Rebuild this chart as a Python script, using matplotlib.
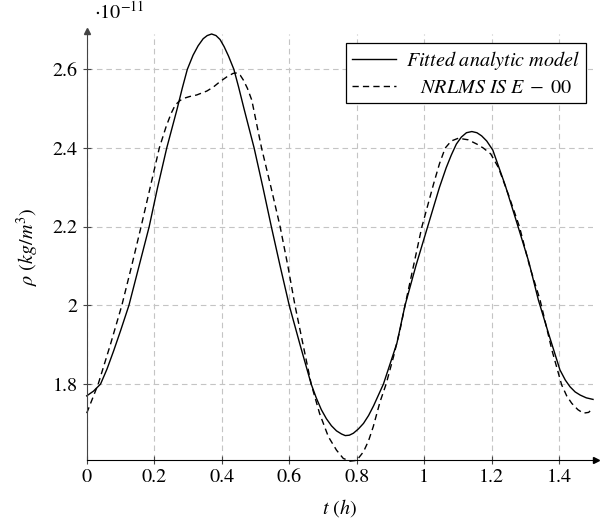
import numpy as np
import matplotlib
matplotlib.use("Agg")
import matplotlib.pyplot as plt

plt.rcParams["font.family"] = "STIXGeneral"
plt.rcParams["mathtext.fontset"] = "stix"
plt.rcParams["font.size"] = 14.5

# fitted analytic model, density in units of 1e-11 kg/m^3
t_fit = [0.000, 0.020, 0.041, 0.060, 0.080, 0.100, 0.125, 0.155, 0.185, 0.210,
         0.237, 0.268, 0.283, 0.298, 0.315, 0.330, 0.345, 0.357, 0.370, 0.383,
         0.395, 0.407, 0.420, 0.436, 0.450, 0.466, 0.496, 0.522, 0.547, 0.573,
         0.600, 0.632, 0.665, 0.680, 0.695, 0.710, 0.725, 0.740, 0.755, 0.766,
         0.778, 0.790, 0.805, 0.820, 0.835, 0.850, 0.879, 0.919, 0.943, 0.975,
         1.010, 1.045, 1.065, 1.080, 1.095, 1.110, 1.125, 1.141, 1.156, 1.170,
         1.185, 1.203, 1.240, 1.278, 1.310, 1.338, 1.368, 1.402, 1.418, 1.432,
         1.447, 1.462, 1.480, 1.500]
rho_fit = [1.770, 1.782, 1.800, 1.838, 1.885, 1.935, 2.000, 2.100, 2.200, 2.300,
           2.400, 2.500, 2.552, 2.600, 2.636, 2.660, 2.678, 2.686, 2.690, 2.686,
           2.676, 2.658, 2.634, 2.600, 2.555, 2.500, 2.400, 2.300, 2.200, 2.100,
           2.000, 1.900, 1.800, 1.765, 1.735, 1.712, 1.694, 1.681, 1.673, 1.669,
           1.670, 1.675, 1.686, 1.700, 1.720, 1.745, 1.800, 1.904, 2.000, 2.100,
           2.200, 2.300, 2.350, 2.382, 2.410, 2.428, 2.439, 2.442, 2.439, 2.431,
           2.418, 2.395, 2.305, 2.200, 2.110, 2.014, 1.929, 1.836, 1.810, 1.793,
           1.780, 1.772, 1.765, 1.761]

# NRLMSISE-00 reference
t_msis = [0.000, 0.034, 0.070, 0.104, 0.133, 0.161, 0.188, 0.215, 0.235, 0.250,
          0.262, 0.275, 0.286, 0.305, 0.326, 0.356, 0.375, 0.395, 0.415, 0.434,
          0.445, 0.455, 0.464, 0.476, 0.489, 0.518, 0.546, 0.573, 0.596, 0.617,
          0.641, 0.665, 0.690, 0.716, 0.740, 0.760, 0.780, 0.800, 0.820, 0.835,
          0.849, 0.869, 0.887, 0.909, 0.928, 0.943, 0.968, 0.993, 1.028, 1.045,
          1.062, 1.080, 1.101, 1.130, 1.156, 1.175, 1.197, 1.220, 1.250, 1.282,
          1.312, 1.343, 1.378, 1.407, 1.422, 1.437, 1.455, 1.471, 1.487, 1.500]
rho_msis = [1.726, 1.800, 1.900, 2.000, 2.100, 2.200, 2.300, 2.400, 2.454, 2.488,
            2.509, 2.520, 2.526, 2.531, 2.535, 2.545, 2.555, 2.569, 2.581, 2.590,
            2.591, 2.585, 2.573, 2.552, 2.522, 2.400, 2.300, 2.200, 2.100, 2.000,
            1.900, 1.800, 1.725, 1.666, 1.632, 1.611, 1.604, 1.606, 1.628, 1.656,
            1.692, 1.755, 1.800, 1.870, 1.937, 2.000, 2.100, 2.200, 2.310, 2.360,
            2.400, 2.418, 2.425, 2.421, 2.410, 2.400, 2.385, 2.350, 2.280, 2.200,
            2.100, 2.014, 1.887, 1.798, 1.770, 1.751, 1.735, 1.726, 1.728, 1.739]

xticks = [0, 0.2, 0.4, 0.6, 0.8, 1.0, 1.2, 1.4]
xtick_labels = ["0", "0.2", "0.4", "0.6", "0.8", "1", "1.2", "1.4"]
yticks = [1.8, 2.0, 2.2, 2.4, 2.6]
ytick_labels = ["1.8", "2", "2.2", "2.4", "2.6"]

fig = plt.figure(figsize=(6.12, 5.23), dpi=100)
ax = fig.add_axes([0.1417, 0.1205, 0.8273, 0.8145])

ax.plot(t_fit, rho_fit, "k-", lw=1.0, label=r"$Fitted\ analytic\ model$",
        clip_on=False)
ax.plot(t_msis, rho_msis, color="k", lw=1.0, ls=(0, (4.5, 3.0)),
        label=r"$\ \ \ NRLMS\ IS\ E\;-\;00$", clip_on=False)

ax.set_xlim(0, 1.5)
ax.set_ylim(1.607, 2.69)
ax.set_xticks(xticks)
ax.set_xticklabels(xtick_labels)
ax.set_yticks(yticks)
ax.set_yticklabels(ytick_labels)
ax.tick_params(direction="inout", length=6, width=0.8, color="#444444")
ax.grid(True, color="#c4c4c4", lw=0.8, ls=(0, (5, 3.5)))
ax.set_axisbelow(True)

for s in ("top", "right"):
    ax.spines[s].set_visible(False)
ax.spines["left"].set_color("#444444")
ax.spines["bottom"].set_color("black")
ax.plot(1.006, 0, ">k", ms=4, transform=ax.transAxes, clip_on=False)
ax.plot(0, 1.006, "^", color="#444444", ms=4, transform=ax.transAxes,
        clip_on=False)

ax.set_xlabel(r"$t\ (h)$", labelpad=8)
ax.set_ylabel(r"$\rho\ (kg/m^3)$", labelpad=8)
fig.text(0.195, 0.977, r"$\cdot 10^{-11}$", ha="center", va="center")

leg = ax.legend(loc="upper right", bbox_to_anchor=(0.986, 0.979),
                borderaxespad=0, fancybox=False, framealpha=1,
                edgecolor="black", handlelength=2.2, labelspacing=0.35,
                borderpad=0.3, handletextpad=0.5)
leg.get_frame().set_linewidth(0.9)

fig.savefig("out.png", dpi=100)
plt.close(fig)
